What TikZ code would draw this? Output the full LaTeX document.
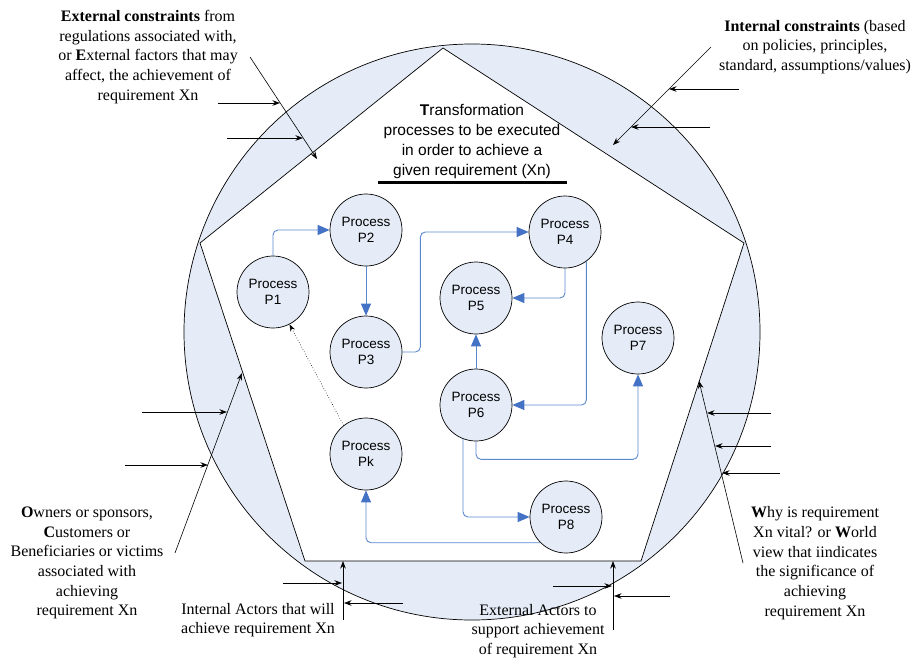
\documentclass[tikz,border=0pt]{standalone}
\usepackage{fontspec}
\setmainfont{Liberation Serif}
\newfontfamily\arialf{Liberation Sans}
\usetikzlibrary{arrows.meta}
\definecolor{ringfill}{HTML}{E5ECF7}
\definecolor{procfill}{HTML}{E5ECF7}
\definecolor{flowblue}{HTML}{5A88CF}
\definecolor{headblue}{HTML}{4472C4}
\begin{document}
\begin{tikzpicture}[x=1pt,y=-1pt,
  proc/.style={circle,draw=black,line width=0.7pt,fill=procfill,minimum size=72pt,inner sep=0pt,align=center,
    font=\arialf\fontsize{13.5}{16.5}\selectfont},
  flow/.style={draw=flowblue,line width=0.9pt,rounded corners=5pt,-{Triangle[length=12pt,width=10pt,color=headblue]}},
  blk/.style={draw=black,line width=0.6pt,-{Stealth[length=7.5pt,width=5.5pt]}},
  note/.style={align=center,font=\fontsize{16}{19.7}\selectfont,inner sep=0pt}]
\useasboundingbox (0,0) rectangle (917,659);
% ring between circle and pentagon
\coordinate (va) at (443,48);
\coordinate (vr) at (744,243);
\coordinate (vbr) at (641,561);
\coordinate (vbl) at (305,561);
\coordinate (vl) at (200,243);
\fill[ringfill,even odd rule] (472,332) circle[radius=288pt] (va) -- (vr) -- (vbr) -- (vbl) -- (vl) -- cycle;
\draw[line width=0.7pt] (472,332) circle[radius=288pt];
\draw[line width=0.7pt] (va) -- (vr) -- (vbr) -- (vbl) -- (vl) -- cycle;
% title
\node[align=center,inner sep=0pt,font=\arialf\fontsize{15.5}{20}\selectfont] (title) at (472,141)
  {\textbf{T}ransformation\\processes to be executed\\in order to achieve a\\given requirement (Xn)};
\draw[line width=3pt] (378,182) -- (567,182);
% processes
\node[proc] (p1) at (273,292) {Process\\P1};
\node[proc] (p2) at (366,230) {Process\\P2};
\node[proc] (p3) at (366,352) {Process\\P3};
\node[proc] (p4) at (565,232) {Process\\P4};
\node[proc] (p5) at (476,298) {Process\\P5};
\node[proc] (p6) at (476,405) {Process\\P6};
\node[proc] (p7) at (638,338) {Process\\P7};
\node[proc] (pk) at (366,454) {Process\\Pk};
\node[proc] (p8) at (566,517) {Process\\P8};
% flows
\draw[flow] (p1.north) |- (p2.west);
\draw[flow] (p2.south) -- (p3.north);
\draw[flow] (p3.east) -- ++(18,0) |- (p4.west);
\draw[flow] (p4.south) |- (p5.east);
\draw[flow] (p4.-54) |- (p6.east);
\draw[flow] (p6.north) -- (p5.south);
\draw[flow] (p6.south) -- ++(0,18) -| (p7.south);
\draw[flow] (p6.-111) |- (p8.west);
\draw[flow] (p8.-135) -| (pk.south);
\draw[dotted,line width=0.6pt,-{Stealth[length=7pt,width=5pt]}] (pk.128) -- (p1.-63);
% notes
\node[note] (ext) at (148,57) {\textbf{External constraints} from\\regulations associated with,\\or \textbf{E}xternal factors that may\\affect, the achievement of\\requirement Xn};
\node[note] (int) at (815,47) {\textbf{Internal constraints} (based\\on policies, principles,\\standard, assumptions/values)};
\node[note] (own) at (87,563) {\textbf{O}wners or sponsors,\\\textbf{C}ustomers or\\Beneficiaries or victims\\associated with\\achieving\\requirement Xn};
\node[note] (ia) at (258,620) {Internal Actors that will\\achieve requirement Xn};
\node[note] (ea) at (538,631) {External Actors to\\support achievement\\of requirement Xn};
\node[note] (why) at (815,563) {\textbf{W}hy is requirement\\Xn vital? or \textbf{W}orld\\view that iindicates\\the significance of\\achieving\\requirement Xn};
% top-left arrows
\coordinate (tla) at (250,57); \coordinate (tlb) at (317,159);
\draw[blk] (tla) -- (tlb);
\coordinate (tl1s) at (218,103); \coordinate (tl1e) at (280,103);
\coordinate (tl2s) at (227,138); \coordinate (tl2e) at (303,138);
\draw[blk] (tl1s) -- (tl1e);
\draw[blk] (tl2s) -- (tl2e);
% top-right arrows
\coordinate (tra) at (711,47); \coordinate (trb) at (613,145);
\draw[blk] (tra) -- (trb);
\coordinate (tr1s) at (739,89); \coordinate (tr1e) at (669,89);
\coordinate (tr2s) at (710,127); \coordinate (tr2e) at (631,127);
\draw[blk] (tr1s) -- (tr1e);
\draw[blk] (tr2s) -- (tr2e);
% bottom-left arrows
\coordinate (bla) at (175,553); \coordinate (blb) at (242,373);
\draw[blk] (bla) -- (blb);
\coordinate (bl1s) at (142,412); \coordinate (bl1e) at (227,412);
\coordinate (bl2s) at (125,465); \coordinate (bl2e) at (208,465);
\draw[blk] (bl1s) -- (bl1e);
\draw[blk] (bl2s) -- (bl2e);
% internal actors arrows
\coordinate (iaa) at (343,620); \coordinate (iab) at (343,561);
\draw[blk] (iaa) -- (iab);
\coordinate (ia1s) at (283,583); \coordinate (ia1e) at (342,583);
\coordinate (ia2s) at (403,603); \coordinate (ia2e) at (344,603);
\draw[blk] (ia1s) -- (ia1e);
\draw[blk] (ia2s) -- (ia2e);
% external actors arrows
\coordinate (eaa) at (613,630); \coordinate (eab) at (613,561);
\draw[blk] (eaa) -- (eab);
\coordinate (ea1s) at (553,586); \coordinate (ea1e) at (612,586);
\coordinate (ea2s) at (670,596); \coordinate (ea2e) at (614,596);
\draw[blk] (ea1s) -- (ea1e);
\draw[blk] (ea2s) -- (ea2e);
% why arrows
\coordinate (wa) at (743,563); \coordinate (wb) at (699,381);
\draw[blk] (wa) -- (wb);
\coordinate (w1s) at (771,413); \coordinate (w1e) at (707,413);
\coordinate (w2s) at (771,446); \coordinate (w2e) at (715,446);
\coordinate (w3s) at (780,473); \coordinate (w3e) at (722,473);
\draw[blk] (w1s) -- (w1e);
\draw[blk] (w2s) -- (w2e);
\draw[blk] (w3s) -- (w3e);
\end{tikzpicture}
\end{document}
